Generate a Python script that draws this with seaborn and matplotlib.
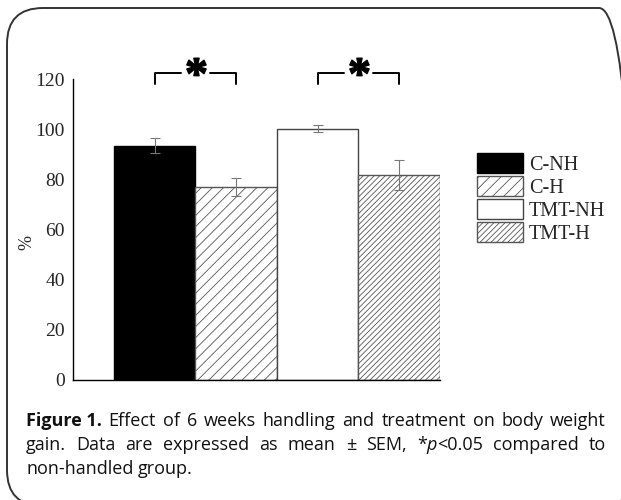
import numpy as np
import matplotlib
matplotlib.use("Agg")
import matplotlib.pyplot as plt
import seaborn as sns
from matplotlib.patches import Patch, FancyBboxPatch
from matplotlib.transforms import IdentityTransform
from matplotlib.textpath import TextPath
from matplotlib.font_manager import FontProperties
from matplotlib.path import Path

# data
groups = ["C-NH", "C-H", "TMT-NH", "TMT-H"]
means = [93.3, 76.9, 100.2, 81.8]
sems = [3.0, 3.6, 1.4, 6.0]
yticks = [0, 20, 40, 60, 80, 100, 120]
sig_pairs = [(0, 1), (2, 3)]

# bar looks
faces = ["black", "white", "white", "white"]
edges = ["black", "#555555", "#444444", "#555555"]
hatches = [None, "///", None, "//////"]

sns.set_style("white")
plt.rcParams["font.family"] = ["Liberation Serif", "DejaVu Serif"]
plt.rcParams["hatch.linewidth"] = 0.6

W, H = 621, 500
fig = plt.figure(figsize=(W / 100, H / 100), dpi=100)
ax = fig.add_axes([73 / W, 1 - 380 / H, (440 - 73) / W, (380 - 79) / H])

sns.barplot(x=groups, y=means, hue=groups, palette=faces, legend=False,
            width=1.0, linewidth=1.0, errorbar=None, ax=ax)
for bar, fc, ec, h in zip(ax.patches, faces, edges, hatches):
    bar.set_facecolor(fc)
    bar.set_edgecolor(ec)
    if h:
        bar.set_hatch(h)

ax.errorbar(np.arange(len(groups)), means, yerr=sems, fmt="none",
            ecolor="#777777", elinewidth=0.8, capsize=3.5, capthick=0.8, zorder=5)

ax.set_xlim(-1.0, 3.5)
ax.set_ylim(0, 120)
ax.set_yticks(yticks)
ax.set_xticks([])
ax.set_xlabel("")
ax.set_ylabel("")
ax.tick_params(axis="y", length=0, pad=6, labelsize=14)
sns.despine(ax=ax, top=True, right=True)
for s in ["left", "bottom"]:
    ax.spines[s].set_color("black")
    ax.spines[s].set_linewidth(1.0)

fig.text(27 / W, 1 - 243 / H, "%", rotation=90, ha="center", va="center", fontsize=13)

# significance brackets with a heavy asterisk in the gap
fp = FontProperties(family="Liberation Serif", weight="bold")
star = TextPath((0, 0), "*", prop=fp)
v = star.vertices.copy()
v -= (v.max(axis=0) + v.min(axis=0)) / 2
star = Path(v, star.codes)
y_top, y_low, gap = 122.3, 117.9, 0.18
for a, b in sig_pairs:
    mid = (a + b) / 2
    ax.plot([a, a, mid - gap], [y_low, y_top, y_top], color="black", lw=1.4, clip_on=False)
    ax.plot([mid + gap, b, b], [y_top, y_top, y_low], color="black", lw=1.4, clip_on=False)
    ax.plot([mid], [y_top], marker=star, markersize=22, color="black",
            markeredgewidth=1.0, clip_on=False)

handles = [Patch(facecolor=fc, edgecolor=ec, hatch=h, linewidth=1.0)
           for fc, ec, h in zip(faces, edges, hatches)]
fig.legend(handles, groups, loc="upper left", bbox_to_anchor=(477 / W, 1 - 153 / H),
           frameon=False, fontsize=14.5, borderpad=0, borderaxespad=0,
           handlelength=2.3, handleheight=1.15, labelspacing=0.06, handletextpad=0.28)

# caption, justified like the journal layout
cap_font = ["Open Sans", "DejaVu Sans"]
cap_size = 13
lines = [
    [[("Figure 1.", "bold", "normal")]]
    + [[(w, "normal", "normal")] for w in "Effect of 6 weeks handling and treatment on body weight".split()],
    [[(w, "normal", "normal")] for w in "gain. Data are expressed as mean ± SEM,".split()]
    + [[("*", "normal", "normal"), ("p", "normal", "italic"), ("<0.05", "normal", "normal")]]
    + [[(w, "normal", "normal")] for w in "compared to".split()],
    [[(w, "normal", "normal")] for w in "non-handled group.".split()],
]
baselines = [426, 450, 474]
x0, x1 = 26, 606
renderer = fig.canvas.get_renderer()


def run_width(txt, weight, style):
    t = fig.text(0, 0, txt, fontsize=cap_size, family=cap_font, weight=weight, style=style)
    w = t.get_window_extent(renderer).width
    t.remove()
    return w


space = run_width("a a", "normal", "normal") - run_width("aa", "normal", "normal")
for i, (words, yb) in enumerate(zip(lines, baselines)):
    widths = [[run_width(*r) for r in wd] for wd in words]
    total = sum(sum(w) for w in widths)
    sp = (x1 - x0 - total) / (len(words) - 1) if i < 2 else space
    x = x0
    for wd, ws in zip(words, widths):
        for (txt, weight, style), w in zip(wd, ws):
            fig.text(x / W, 1 - yb / H, txt, fontsize=cap_size, family=cap_font,
                     weight=weight, style=style, va="baseline", ha="left", color="#111111")
            x += w
        x += sp

# rounded frame around the figure panel, running off the right and bottom edges
frame = FancyBboxPatch((7, -6), 628, 498, boxstyle="round,pad=0,rounding_size=36",
                       transform=IdentityTransform(), facecolor="none",
                       edgecolor="#333333", linewidth=1.4)
fig.add_artist(frame)

fig.savefig("out.png", dpi=100)
